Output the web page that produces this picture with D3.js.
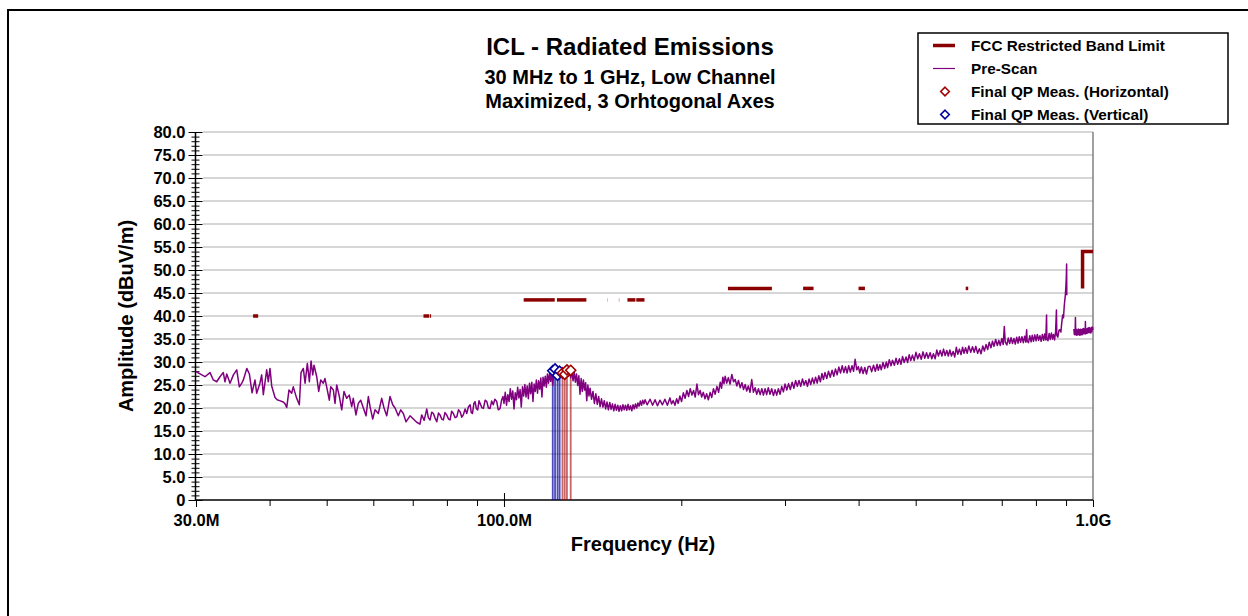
<!DOCTYPE html>
<html>
<head>
<meta charset="utf-8">
<script src="https://cdn.jsdelivr.net/npm/d3@7/dist/d3.min.js"></script>
<style>
  html, body { margin: 0; padding: 0; background: #fff; }
  svg { display: block; }
  text { font-family: "Liberation Sans", Arial, sans-serif; font-weight: bold; fill: #000; }
</style>
</head>
<body>
<svg id="chart" width="1248" height="616"></svg>
<script>
// ---- Chart data ----
const titleLines = ["ICL - Radiated Emissions", "30 MHz to 1 GHz, Low Channel", "Maximized, 3 Orhtogonal Axes"];

// X axis (MHz, log) and its labels
const xTickValues = [30, 100, 1000];
const xTickLabels = ["30.0M", "100.0M", "1.0G"];
const xMinorTicks = [40, 50, 60, 70, 80, 90, 200, 300, 400, 500, 600, 700, 800, 900];

// Y axis (dBuV/m)
const yMajorTicks = [0, 5, 10, 15, 20, 25, 30, 35, 40, 45, 50, 55, 60, 65, 70, 75, 80];
const yTickLabels = ["0", "5.0", "10.0", "15.0", "20.0", "25.0", "30.0", "35.0", "40.0", "45.0", "50.0", "55.0", "60.0", "65.0", "70.0", "75.0", "80.0"];

// FCC restricted bands: [start MHz, stop MHz, limit dBuV/m]
const limitBands = [
  [37.5, 38.25, 40], [73, 74.6, 40], [74.8, 75.2, 40],
  [108, 121.94, 43.5], [123, 138, 43.5], [149.9, 150.05, 43.5],
  [156.52475, 156.52525, 43.5], [156.7, 156.9, 43.5],
  [162.0125, 167.17, 43.5], [167.72, 173.2, 43.5],
  [240, 285, 46], [322, 335.4, 46], [399.9, 410, 46], [608, 614, 46]
];
// Limit step above 960 MHz
const limitStep = [[960, 46], [960, 54], [1000, 54]];

// Pre-scan trace: [MHz, dBuV/m]; null marks the excluded 902-928 MHz band
const preScan = [
  [30.0,27.9],[30.48,27.4],[31.07,26.8],[31.69,27.7],[32.1,26.1],[32.53,25.7],[32.95,26.8],[33.38,27.7],[33.6,25.7],[33.83,27.4],
  [34.27,25.4],[34.72,27.2],[35.18,28.3],[35.54,24.6],[35.88,25.4],[36.1,26.1],[36.59,28.6],[36.96,27.4],[37.35,23.3],[37.78,26.1],
  [38.03,23.2],[38.52,25.4],[38.78,27.2],[39.03,22.9],[39.55,28.3],[39.8,25.7],[40.06,28.6],[40.33,24.8],[40.86,22.3],[41.2,21.8],
  [41.6,21.6],[42.2,21.3],[42.5,20.9],[42.77,20.1],[43.15,23.9],[43.6,23.2],[43.88,24.6],[44.47,22.1],[44.93,20.7],[45.23,27.7],
  [45.64,28.6],[45.95,25.4],[46.36,29.7],[46.73,25.7],[47.04,30.2],[47.35,27.2],[47.59,29.3],[48.09,26.8],[48.47,23.6],[48.85,26.1],
  [49.34,25.4],[49.67,26.4],[50.0,24.6],[50.52,21.7],[50.8,24.6],[51.32,23.9],[51.66,21.0],[52.0,25.0],[52.54,22.5],[53.03,19.6],
  [53.51,23.6],[54.06,22.1],[54.62,22.8],[55.14,20.3],[55.48,22.1],[56.06,18.5],[56.58,21.0],[57.12,21.7],[57.71,20.0],[58.32,18.3],
  [58.85,22.5],[59.24,20.3],[59.86,17.6],[60.4,19.6],[61.19,18.8],[62.0,22.1],[62.57,20.0],[63.23,18.3],[64.05,22.5],[64.73,20.7],
  [65.32,20.0],[66.16,18.3],[66.79,19.6],[67.47,18.8],[68.18,17.0],[69.26,18.3],[70.16,17.6],[71.1,16.9],
  [72.0,16.5],[72.49,18.5],[73.2,17.3],[73.94,19.8],[74.4,17.9],[74.91,17.4],[75.4,19.1],[75.88,18.8],[76.4,17.8],[76.9,17.0],
  [77.4,18.9],[77.88,18.5],[78.4,17.6],[78.9,17.4],[79.4,19.0],[79.94,18.5],[80.5,17.6],[81.0,17.4],[81.5,19.3],[82.06,18.8],
  [82.6,17.9],[83.16,18.1],[83.7,19.6],[84.23,19.2],[84.8,18.0],[85.3,18.5],[85.9,19.8],[86.45,18.8],[87.0,20.2],[87.6,20.7],
  [88.0,19.0],[88.4,18.8],[88.9,21.0],[89.3,21.4],[89.8,19.8],[90.25,19.6],[90.7,21.6],[91.08,21.0],[91.7,20.1],[92.27,19.9],
  [92.9,21.7],[93.5,21.4],[94.1,20.0],[94.7,19.9],[95.3,21.5],[95.9,20.7],[96.5,21.9],[97.2,21.4],[97.8,19.6],[98.5,19.9],
  [99.1,21.8],[99.6,22.5],
  [100.0,21.0],[100.5,23.4],[101.0,20.6],[101.5,22.9],[102.0,21.4],[102.5,24.2],[103.0,21.9],[103.5,23.7],[104.0,19.8],[104.5,23.3],
  [105.0,21.8],[105.5,24.5],[106.0,22.2],[106.5,24.0],[107.0,20.2],[107.5,24.6],[108.0,22.6],[108.5,25.1],[109.0,22.4],[109.5,24.8],
  [110.0,22.0],[110.5,25.4],[111.0,23.1],[111.5,25.6],[112.0,21.4],[112.5,25.2],[113.0,23.6],[113.5,26.1],[114.0,23.2],[114.5,25.9],
  [115.0,24.1],[115.5,26.5],[116.0,22.4],[116.5,26.7],[117.0,24.8],[117.5,26.9],[118.0,24.5],[118.5,27.4],[119.0,25.4],[119.5,27.6],
  [120.0,25.8],[120.5,27.9],[121.0,24.9],[121.5,28.1],[122.0,26.6],[122.5,28.4],[123.0,26.3],[123.5,28.6],[124.0,26.9],[124.5,28.3],
  [125.0,27.1],[125.6,28.8],[126.2,27.0],[126.8,28.5],[127.4,27.3],[128.0,28.9],[128.6,26.9],[129.2,28.4],[129.8,26.6],[130.4,28.1],
  [131.0,25.9],[131.6,27.8],[132.2,25.6],[132.8,27.4],[133.4,24.9],[134.0,27.0],[134.6,23.0],[135.2,26.4],[135.8,23.6],[136.4,26.1],
  [137.0,23.9],[137.6,25.5],[138.2,21.6],[138.8,25.0],[139.4,22.6],[140.0,24.3],[140.8,21.9],[141.6,23.6],[142.4,21.0],[143.2,23.1],
  [144.0,20.8],[144.8,22.5],[145.6,20.3],[146.4,22.0],[147.2,20.2],[148.0,21.6],[148.8,19.8],[149.6,21.3],[150.4,19.6],[151.2,21.2],
  [152.0,19.7],[152.8,20.9],[153.6,19.4],[154.4,20.8],[155.2,19.5],[156.0,20.6],[156.8,19.3],[157.6,20.5],[158.4,19.4],[159.2,20.7],
  [160.0,19.6],[160.8,20.6],[161.6,19.5],[162.4,20.8],[163.2,19.6],[164.0,20.5],[164.8,19.4],[165.6,20.7],[166.4,19.8],[167.2,20.9],
  [168.0,20.0],[168.8,21.1],[169.6,20.4],[170.4,21.5],[171.2,20.6],[172.0,21.7],[172.8,20.9],[173.6,21.8],
  [175.0,20.7],[177.0,21.9],[178.8,20.6],[180.5,21.8],[182.2,20.5],[184.0,21.7],[185.8,20.7],[187.6,21.9],[189.4,20.6],[191.3,22.2],
  [192.5,20.9],[193.8,21.6],[195.1,20.6],[196.4,22.0],[197.6,21.0],[198.9,22.6],[200.2,21.4],[201.6,23.3],[203.0,22.1],[204.4,23.8],
  [205.8,22.5],[207.1,24.2],[208.5,22.8],[209.8,23.8],[211.2,22.4],[212.6,25.2],[213.9,22.9],[215.3,23.8],[216.6,22.4],[218.0,23.4],
  [219.4,22.0],[220.8,23.1],[222.3,21.8],[223.9,23.4],[225.3,22.3],[226.8,24.2],[228.3,23.0],[229.9,24.7],[231.4,23.4],[232.9,25.6],
  [234.1,24.3],[235.3,26.7],[236.3,25.3],[237.4,26.9],[238.9,25.4],[240.4,26.6],[242.0,25.2],[243.7,27.3],[245.3,25.7],[246.9,26.2],
  [248.5,24.8],[250.1,26.0],[251.8,24.4],[253.5,25.5],[255.1,24.0],[256.7,25.1],[258.3,23.7],[259.9,24.8],[261.6,23.4],[263.4,26.2],
  [265.1,23.4],[266.9,24.4],[268.6,23.0],[270.4,24.2],[272.2,22.9],[274.0,24.2],[275.7,22.8],[277.5,24.2],[279.2,22.9],[281.0,24.4],
  [282.9,23.0],[284.8,24.2],[286.7,22.7],[288.6,24.0],[290.4,22.8],[292.3,24.2],[294.3,23.0],[296.2,24.7],[298.1,23.5],[300.0,25.2],
  [302.1,23.9],[304.2,25.3],[306.3,24.0],[308.5,25.6],[310.6,24.3],[312.7,26.0],[314.8,24.7],[316.9,26.0],[319.0,24.7],[321.2,26.3],
  [323.3,25.0],[325.4,26.0],[327.5,24.7],[329.6,26.3],[331.7,25.1],[333.9,26.5],[336.0,25.3],[338.1,26.7],[340.2,25.4],[342.3,27.0],
  [344.5,25.7],[346.6,27.5],[348.6,26.2],[350.7,27.7],[353.2,26.4],[355.6,28.0],[358.1,26.7],[360.6,28.2],[363.0,26.9],[365.4,28.5],
  [367.8,27.2],[370.2,28.9],[372.7,27.6],[375.2,29.2],[377.6,27.7],[380.0,29.0],[382.4,27.6],[384.8,29.2],[387.3,27.8],[389.8,29.2],
  [392.2,28.0],[394.6,30.6],[397.1,28.3],[399.6,29.0],[401.9,27.6],[404.3,28.9],[407.1,27.5],[409.8,28.8],[412.5,27.4],[415.3,29.0],
  [418.1,29.1],[421,27.9],[424,29.3],[427,28.0],[430,29.5],[432,28.2],[434.7,29.4],[437,28.3],[440,29.9],[443,28.6],
  [445.8,30.0],[448,28.8],[451,30.5],[454,29.2],[456.7,30.4],[460,29.3],[463,30.8],[466,29.5],[469.2,30.7],[472,29.5],
  [475,31.2],[478,29.9],[481.5,31.1],[484.5,29.9],[487.5,31.6],[490.5,30.3],[493.7,31.5],[497,30.3],[500.5,32.1],[504,30.7],
  [507.3,31.8],[511,30.6],[514.5,32.2],[518,30.8],[521.7,32.0],[525,30.8],[529,32.0],[532.5,30.7],[535.9,31.8],[539.5,30.7],
  [543,32.6],[546.5,31.3],[550.3,32.5],[554,31.3],[557.5,32.8],[561,31.4],[564.6,32.5],[568,31.3],[571.5,32.6],[575,31.3],
  [578.8,32.3],[582.5,31.1],[586.1,33.2],[589.5,31.7],[593.2,32.8],[597,31.6],[600.5,33.2],[604,31.9],[607.6,33.1],[611.5,31.9],
  [615.5,33.5],[620,32.1],[624.4,33.3],[628.5,32.1],[632.5,33.4],[637,31.9],[641.4,32.9],[645.5,31.8],[650,33.5],[654,32.4],
  [658.4,33.8],[662.5,32.7],[666.5,34.3],[671,33.1],[675.1,34.5],[679,33.4],[683.5,34.9],[688,33.6],[692.1,34.7],[696,33.6],
  [700,35.1],[704,33.8],[707,37.7],[709.6,34.3],[714,33.7],[718,35.2],[722,34.0],[726,35.3],[730,34.0],[734,35.1],
  [738,33.9],[742,35.4],[746,34.1],[749.5,35.5],[753.5,34.3],[757.5,35.5],[761.5,34.2],[765.5,35.6],[769,34.3],[771.5,37.0],
  [773.1,34.6],[777,34.2],[781,35.7],[785,34.4],[788.5,35.8],[792.4,34.5],[796.5,35.9],[800.5,34.6],[804.5,36.0],[808.5,34.7],
  [812.6,35.7],[816.5,34.5],[820.5,36.0],[824.5,34.7],[828,36.1],[831.5,34.8],[834,40.2],[834.9,35.2],[838.5,34.6],[842.5,36.2],
  [846,34.9],[850,36.3],[853.5,35.0],[856.8,36.0],[860.5,34.8],[864,36.6],[866.8,41.3],[868.1,35.8],[871.5,35.4],[875.5,36.9],
  [879.1,37.0],[882,36.5],[885,38.5],[888,40.2],[891,39.6],[893.5,42.0],[895.7,43.5],[897.5,44.5],[899.5,46.5],[901.0,48.5],
  [902.0,51.3],[902.6,44.5],[915,null],
  [928,37.2],[929.5,36.0],[931,37.0],[932.5,35.9],[933.6,39.7],[934.8,36.1],[936.5,37.1],[938,35.8],[940,36.9],[942,35.9],
  [944,37.2],[946,36.0],[948,37.0],[950,35.8],[952,37.1],[954,36.0],[956,37.0],[958,35.9],[960,37.2],[962,36.1],
  [964,37.3],[966,36.2],[968,37.1],[970,36.1],[970.7,38.8],[971.5,36.3],[973.5,37.2],[975.5,36.2],[977.5,37.3],[979.5,36.3],
  [981.5,37.4],[983.5,36.4],[985.5,37.5],[987.5,36.4],[989.5,37.3],[991.5,36.3],[993.5,37.5],[995.5,36.6],[997.5,37.6],[1000,37.0]
];

// Final quasi-peak measurements
const qpHorizFreq = [125.7, 126.8, 127.9, 129.8];
const qpHorizLevel = [27.6, 27.3, 28.3, 28.2];
const qpVertFreq = [121.0, 122.1, 123.3, 124.3];
const qpVertLevel = [28.1, 28.5, 27.1, 28.0];

const legendLabels = ["FCC Restricted Band Limit", "Pre-Scan", "Final QP Meas. (Horizontal)", "Final QP Meas. (Vertical)"];

// ---- Styling ----
const LIMIT_COLOR = "#8b0000";
const SCAN_COLOR = "#800080";
const HORIZ_COLOR = "#a00000";
const VERT_COLOR = "#0000a0";
const GRID_COLOR = "#c8c8c8";
const FONT = '"Liberation Sans", Arial, sans-serif';

const svg = d3.select("#chart");

// Outer chart frame
svg.append("rect").attr("x", 8).attr("y", 10).attr("width", 1300).attr("height", 700)
  .attr("fill", "none").attr("stroke", "#000").attr("stroke-width", 2);

const x = d3.scaleLog().domain([30, 1000]).range([196, 1093]);
const y = d3.scaleLinear().domain([0, 80]).range([500, 132]);

// Horizontal gridlines
svg.append("g").selectAll("line").data(yMajorTicks.filter(d => d > 0)).join("line")
  .attr("x1", 203).attr("x2", x(1000))
  .attr("y1", d => y(d)).attr("y2", d => y(d))
  .attr("stroke", GRID_COLOR).attr("stroke-width", 1.6);

// Right border of plot
svg.append("line").attr("x1", x(1000)).attr("x2", x(1000)).attr("y1", y(80)).attr("y2", y(0))
  .attr("stroke", "#808080").attr("stroke-width", 1.5);

// Y axis: major and minor ticks on both sides of the axis line
function styleAxis(g) {
  g.select(".domain").remove();
  g.selectAll(".tick line").attr("stroke", "#000").attr("stroke-width", 1);
}
function styleLabels(g) {
  g.selectAll("text").attr("font-size", 16.5).attr("font-weight", "bold")
    .attr("font-family", FONT).attr("fill", "#000");
}
const axX = 195.5;
svg.append("g").attr("transform", `translate(${axX},0)`)
  .call(d3.axisLeft(y).tickValues(d3.range(0, 81, 1)).tickSize(4).tickFormat(""))
  .call(styleAxis);
svg.append("g").attr("transform", `translate(${axX},0)`)
  .call(d3.axisRight(y).tickValues(d3.range(0, 81, 1)).tickSize(4).tickFormat(""))
  .call(styleAxis);
svg.append("g").attr("transform", `translate(${axX},0)`)
  .call(d3.axisLeft(y).tickValues(yMajorTicks).tickSize(7).tickPadding(3)
    .tickFormat((d, i) => yTickLabels[i]))
  .call(styleAxis).call(styleLabels);
svg.append("g").attr("transform", `translate(${axX},0)`)
  .call(d3.axisRight(y).tickValues(yMajorTicks).tickSize(7).tickFormat(""))
  .call(styleAxis);
svg.append("line").attr("x1", axX).attr("x2", axX).attr("y1", y(80)).attr("y2", y(0))
  .attr("stroke", "#000").attr("stroke-width", 1.5);

// X axis
svg.append("g").attr("transform", `translate(0,${y(0)})`)
  .call(d3.axisBottom(x).tickValues(xMinorTicks).tickSize(6).tickFormat(""))
  .call(styleAxis);
svg.append("g").attr("transform", `translate(0,${y(0)})`)
  .call(d3.axisBottom(x).tickValues(xTickValues).tickSize(7).tickPadding(7)
    .tickFormat((d, i) => xTickLabels[i]))
  .call(styleAxis).call(styleLabels);
svg.append("g").attr("transform", `translate(0,${y(0)})`)
  .call(d3.axisTop(x).tickValues(xTickValues.slice(1, 2)).tickSize(7).tickFormat(""))
  .call(styleAxis);
svg.append("line").attr("x1", axX).attr("x2", x(1000)).attr("y1", y(0)).attr("y2", y(0))
  .attr("stroke", "#000").attr("stroke-width", 1.5);

// QP measurement drop lines
const qpH = qpHorizFreq.map((f, i) => ({ f, v: qpHorizLevel[i] }));
const qpV = qpVertFreq.map((f, i) => ({ f, v: qpVertLevel[i] }));
svg.append("g").selectAll("line").data(qpV).join("line")
  .attr("x1", d => x(d.f)).attr("x2", d => x(d.f))
  .attr("y1", d => y(d.v)).attr("y2", y(0))
  .attr("stroke", VERT_COLOR).attr("stroke-opacity", 0.7).attr("stroke-width", 1.8);
svg.append("g").selectAll("line").data(qpH).join("line")
  .attr("x1", d => x(d.f)).attr("x2", d => x(d.f))
  .attr("y1", d => y(d.v)).attr("y2", y(0))
  .attr("stroke", HORIZ_COLOR).attr("stroke-opacity", 0.6).attr("stroke-width", 1.8);

// Pre-scan trace
const scanLine = d3.line().defined(d => d[1] != null).x(d => x(d[0])).y(d => y(d[1]));
svg.append("path").datum(preScan).attr("d", scanLine)
  .attr("fill", "none").attr("stroke", SCAN_COLOR).attr("stroke-width", 1.5)
  .attr("stroke-linejoin", "round");

// Limit line
svg.append("g").selectAll("line").data(limitBands).join("line")
  .attr("x1", d => x(d[0])).attr("x2", d => x(d[1]))
  .attr("y1", d => y(d[2])).attr("y2", d => y(d[2]))
  .attr("stroke", LIMIT_COLOR).attr("stroke-width", 3.5);
svg.append("path").datum(limitStep)
  .attr("d", d3.line().x(d => x(d[0])).y(d => y(d[1])))
  .attr("fill", "none").attr("stroke", LIMIT_COLOR).attr("stroke-width", 3.5);

// QP diamonds
const diamond = s => `M0,${-s}L${s},0L0,${s}L${-s},0Z`;
svg.append("g").selectAll("path").data(qpV).join("path")
  .attr("d", diamond(5)).attr("transform", d => `translate(${x(d.f)},${y(d.v)})`)
  .attr("fill", "#fff").attr("stroke", VERT_COLOR).attr("stroke-width", 1.6);
svg.append("g").selectAll("path").data(qpH).join("path")
  .attr("d", diamond(5)).attr("transform", d => `translate(${x(d.f)},${y(d.v)})`)
  .attr("fill", "#fff").attr("stroke", HORIZ_COLOR).attr("stroke-width", 1.6);

// Titles
const titleX = 630;
svg.append("text").attr("x", titleX).attr("y", 55).attr("text-anchor", "middle")
  .attr("font-size", 24).text(titleLines[0]);
svg.append("text").attr("x", titleX).attr("y", 84).attr("text-anchor", "middle")
  .attr("font-size", 20).text(titleLines[1]);
svg.append("text").attr("x", titleX).attr("y", 108).attr("text-anchor", "middle")
  .attr("font-size", 20).text(titleLines[2]);

// Axis titles
svg.append("text").attr("x", 643).attr("y", 551).attr("text-anchor", "middle")
  .attr("font-size", 20).text("Frequency (Hz)");
svg.append("text").attr("transform", "translate(133,316) rotate(-90)").attr("text-anchor", "middle")
  .attr("font-size", 20).text("Amplitude (dBuV/m)");

// Legend
const lg = svg.append("g");
lg.append("rect").attr("x", 918).attr("y", 33).attr("width", 310).attr("height", 91)
  .attr("fill", "#fff").attr("stroke", "#000").attr("stroke-width", 1.5);
const rowY = [45.5, 68.5, 91.5, 114.5];
lg.append("line").attr("x1", 933).attr("x2", 955).attr("y1", rowY[0]).attr("y2", rowY[0])
  .attr("stroke", LIMIT_COLOR).attr("stroke-width", 3.5);
lg.append("line").attr("x1", 933).attr("x2", 955).attr("y1", rowY[1]).attr("y2", rowY[1])
  .attr("stroke", SCAN_COLOR).attr("stroke-width", 1.2);
lg.append("path").attr("d", diamond(4.3)).attr("transform", `translate(945,${rowY[2]})`)
  .attr("fill", "#fff").attr("stroke", HORIZ_COLOR).attr("stroke-width", 1.6);
lg.append("path").attr("d", diamond(4.3)).attr("transform", `translate(945,${rowY[3]})`)
  .attr("fill", "#fff").attr("stroke", VERT_COLOR).attr("stroke-width", 1.6);
lg.selectAll("text.lbl").data(legendLabels).join("text").attr("class", "lbl")
  .attr("x", 971).attr("y", (d, i) => rowY[i] + 5.5)
  .attr("font-size", 15.3).text(d => d);
</script>
</body>
</html>
